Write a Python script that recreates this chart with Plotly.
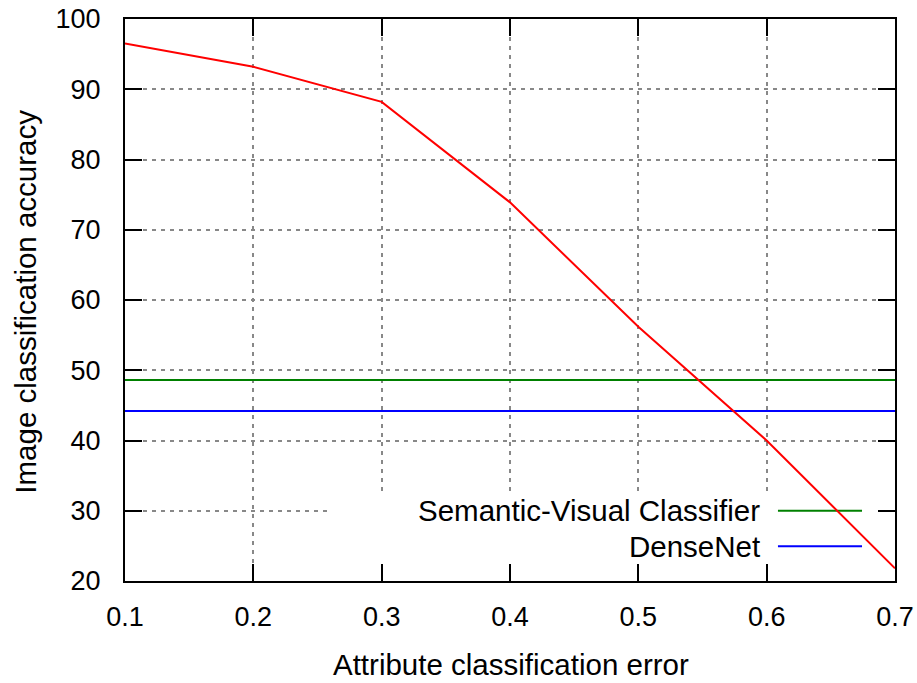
import plotly.graph_objects as go

attr_error = [0.1, 0.2, 0.3, 0.4, 0.5, 0.6, 0.7]
accuracy = [96.5, 93.2, 88.2, 73.9, 56.2, 40.0, 21.8]
svc_name = "Semantic-Visual Classifier"
svc_acc = 48.6
dense_name = "DenseNet"
dense_acc = 44.2
x_ticks = [0.1, 0.2, 0.3, 0.4, 0.5, 0.6, 0.7]
y_ticks = [20, 30, 40, 50, 60, 70, 80, 90, 100]

FONT = "Liberation Sans"
fig = go.Figure()
xr = [attr_error[0], attr_error[-1]]
fig.add_trace(go.Scatter(x=xr, y=[svc_acc, svc_acc], mode="lines",
                         line=dict(color="#008000", width=2), name=svc_name, showlegend=False))
fig.add_trace(go.Scatter(x=xr, y=[dense_acc, dense_acc], mode="lines",
                         line=dict(color="#0000ff", width=2), name=dense_name, showlegend=False))
fig.add_trace(go.Scatter(x=attr_error, y=accuracy, mode="lines",
                         line=dict(color="#ff0000", width=2), showlegend=False))

# white legend background covering grid lines (between grid and traces)
fig.add_shape(type="rect", xref="x", yref="y", x0=0.2597, x1=0.7, y0=20, y1=32.65,
              fillcolor="white", line=dict(width=0), layer="between")
# legend samples
for yy, col, name in [(30.0, "#008000", svc_name), (24.95, "#0000ff", dense_name)]:
    fig.add_shape(type="line", xref="x", yref="y", x0=0.6088, x1=0.6743, y0=yy, y1=yy,
                  line=dict(color=col, width=2), layer="between")
    fig.add_annotation(text=name, xref="x", yref="y", x=0.5961, y=yy,
                       xanchor="right", yanchor="middle", showarrow=False,
                       font=dict(family=FONT, size=29.5, color="black"))

fig.add_annotation(text="Attribute classification error", xref="paper", yref="paper",
                   x=0.501, y=-0.149, xanchor="center", yanchor="middle", showarrow=False,
                   font=dict(family=FONT, size=29.5, color="black"))
fig.add_annotation(text="Image classification accuracy", xref="paper", yref="paper",
                   x=-0.1286, y=0.497, xanchor="center", yanchor="middle", showarrow=False,
                   textangle=-90, font=dict(family=FONT, size=29.5, color="black"))

axis_common = dict(showline=True, linecolor="black", linewidth=2, mirror="ticks",
                   ticks="inside", ticklen=17, tickwidth=2, tickcolor="black",
                   showgrid=True, gridcolor="#888888", gridwidth=2, griddash="4px,5px",
                   zeroline=False, automargin=False,
                   tickfont=dict(family=FONT, size=27, color="black"))
fig.update_xaxes(range=xr, tickvals=x_ticks, ticktext=[f"{v:.1f}" for v in x_ticks],
                 ticklabelstandoff=11, **axis_common)
fig.update_yaxes(range=[20, 100], tickvals=y_ticks, ticklabelstandoff=17, **axis_common)

fig.update_layout(width=917, height=683, margin=dict(l=125, r=22, t=19, b=102, autoexpand=False),
                  plot_bgcolor="white", paper_bgcolor="white")
fig.write_html("out.html", config={"displayModeBar": False},
               post_script="document.body.style.margin='0';")
